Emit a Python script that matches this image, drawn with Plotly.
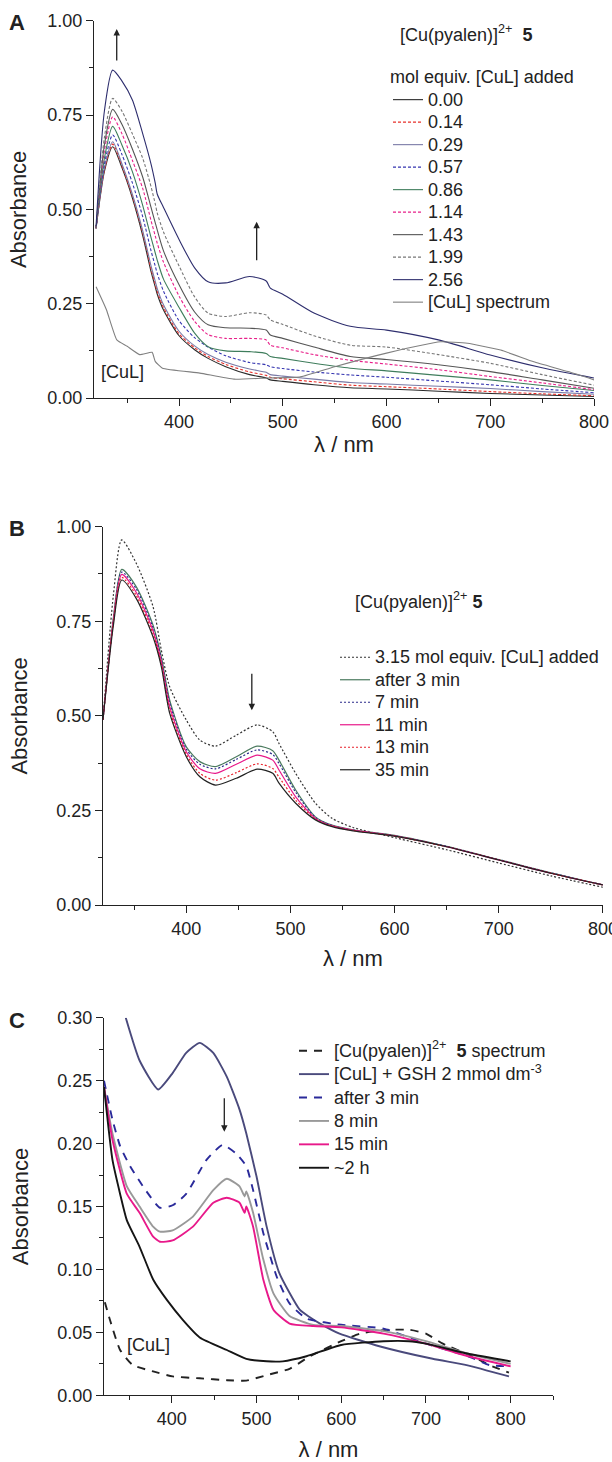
import plotly.graph_objects as go

# ---------------- Panel A data ----------------
wl_a = [320, 328, 336, 345, 355, 365, 373, 377, 379, 385, 400, 415, 428, 445, 468, 484, 488, 500, 530, 565, 600, 650, 700, 750, 800]
a_labels = ["0.00", "0.14", "0.29", "0.57", "0.86", "1.14", "1.43", "1.99", "2.56"]
a_000 = [0.45, 0.600, 0.666, 0.610, 0.530, 0.430, 0.335, 0.295, 0.275, 0.233, 0.165, 0.128, 0.105, 0.083, 0.062, 0.053, 0.048, 0.044, 0.035, 0.027, 0.024, 0.018, 0.012, 0.008, 0.004]
a_014 = [0.45, 0.605, 0.673, 0.615, 0.535, 0.437, 0.342, 0.302, 0.282, 0.240, 0.170, 0.133, 0.110, 0.089, 0.069, 0.060, 0.055, 0.051, 0.043, 0.034, 0.030, 0.024, 0.017, 0.011, 0.006]
a_029 = [0.45, 0.610, 0.679, 0.620, 0.540, 0.443, 0.350, 0.310, 0.290, 0.247, 0.177, 0.138, 0.115, 0.095, 0.077, 0.068, 0.062, 0.058, 0.050, 0.041, 0.037, 0.031, 0.025, 0.017, 0.010]
a_057 = [0.45, 0.620, 0.697, 0.645, 0.570, 0.480, 0.390, 0.350, 0.330, 0.283, 0.205, 0.160, 0.135, 0.112, 0.094, 0.088, 0.083, 0.078, 0.069, 0.061, 0.055, 0.045, 0.035, 0.024, 0.014]
a_086 = [0.45, 0.635, 0.720, 0.670, 0.600, 0.510, 0.425, 0.385, 0.365, 0.315, 0.240, 0.172, 0.136, 0.125, 0.123, 0.118, 0.110, 0.105, 0.092, 0.079, 0.072, 0.060, 0.048, 0.033, 0.020]
a_114 = [0.45, 0.655, 0.745, 0.700, 0.630, 0.555, 0.470, 0.430, 0.410, 0.360, 0.270, 0.203, 0.168, 0.158, 0.158, 0.154, 0.140, 0.133, 0.115, 0.100, 0.090, 0.075, 0.057, 0.040, 0.022]
a_143 = [0.45, 0.670, 0.765, 0.725, 0.660, 0.585, 0.505, 0.465, 0.445, 0.390, 0.300, 0.228, 0.194, 0.186, 0.185, 0.180, 0.167, 0.158, 0.135, 0.110, 0.102, 0.088, 0.070, 0.048, 0.026]
a_199 = [0.45, 0.690, 0.794, 0.760, 0.700, 0.635, 0.560, 0.515, 0.490, 0.440, 0.350, 0.268, 0.225, 0.216, 0.226, 0.220, 0.207, 0.195, 0.165, 0.140, 0.135, 0.115, 0.092, 0.062, 0.034]
a_256 = [0.455, 0.760, 0.869, 0.840, 0.790, 0.700, 0.620, 0.570, 0.540, 0.505, 0.420, 0.345, 0.308, 0.305, 0.322, 0.310, 0.291, 0.275, 0.225, 0.190, 0.180, 0.154, 0.114, 0.080, 0.053]
a_series = [a_000, a_014, a_029, a_057, a_086, a_114, a_143, a_199, a_256]
a_colors = ["#2a2a2a", "#e8302a", "#7a7aa6", "#3535b0", "#3f7d5c", "#e8208a", "#555555", "#777777", "#2e2e6e"]
a_dash = ["solid", "3px,2px", "solid", "3px,2px", "solid", "3px,2px", "solid", "3px,2px", "solid"]

wl_cul = [320, 330, 340, 350, 362, 374, 377, 384, 420, 453, 485, 517, 550, 600, 652, 678, 710, 742, 775, 800]
cul_a = [0.295, 0.234, 0.154, 0.137, 0.115, 0.121, 0.097, 0.079, 0.066, 0.050, 0.053, 0.056, 0.083, 0.119, 0.149, 0.145, 0.127, 0.096, 0.070, 0.048]

# ---------------- Panel B data ----------------
wl_b = [320, 330, 338, 352, 368, 376, 384, 400, 413, 428, 448, 468, 483, 489, 505, 524, 540, 560, 600, 650, 700, 750, 800]
b_labels = ["3.15 mol equiv. [CuL] added", "after 3 min", "7 min", "11 min", "13 min", "35 min"]
b_315 = [0.49, 0.820, 0.965, 0.903, 0.789, 0.674, 0.577, 0.489, 0.436, 0.420, 0.449, 0.476, 0.458, 0.427, 0.348, 0.269, 0.229, 0.205, 0.178, 0.146, 0.111, 0.077, 0.047]
b_3 = [0.49, 0.760, 0.887, 0.841, 0.740, 0.656, 0.542, 0.418, 0.379, 0.366, 0.392, 0.420, 0.408, 0.383, 0.304, 0.233, 0.211, 0.199, 0.184, 0.155, 0.120, 0.085, 0.053]
b_7 = [0.49, 0.755, 0.880, 0.835, 0.733, 0.650, 0.535, 0.412, 0.372, 0.360, 0.385, 0.410, 0.398, 0.374, 0.298, 0.231, 0.210, 0.198, 0.183, 0.155, 0.120, 0.085, 0.053]
b_11 = [0.49, 0.752, 0.874, 0.826, 0.725, 0.643, 0.525, 0.405, 0.360, 0.348, 0.372, 0.396, 0.383, 0.357, 0.286, 0.229, 0.209, 0.198, 0.183, 0.154, 0.119, 0.084, 0.053]
b_13 = [0.49, 0.750, 0.866, 0.818, 0.717, 0.637, 0.515, 0.398, 0.348, 0.330, 0.350, 0.373, 0.361, 0.338, 0.277, 0.227, 0.208, 0.197, 0.182, 0.154, 0.119, 0.084, 0.053]
b_35 = [0.49, 0.740, 0.859, 0.810, 0.709, 0.630, 0.507, 0.392, 0.339, 0.317, 0.335, 0.359, 0.348, 0.322, 0.269, 0.225, 0.207, 0.196, 0.182, 0.154, 0.119, 0.084, 0.053]
b_series = [b_315, b_3, b_7, b_11, b_13, b_35]
b_colors = ["#333333", "#4a7a5e", "#2a2a8a", "#e8198a", "#e8202a", "#222222"]
b_dash = ["2px,2px", "solid", "2px,2px", "solid", "2px,2px", "solid"]

# ---------------- Panel C data ----------------
c_labels = ["[Cu(pyalen)]<sup>2+</sup>  <b>5</b> spectrum", "[CuL] + GSH 2 mmol dm<sup>-3</sup>",
            "after 3 min", "8 min", "15 min", "~2 h"]
wl_c0 = [321, 327, 339, 354, 378, 401, 433, 465, 488, 512, 539, 563, 600, 622, 654, 681, 700, 720, 755, 775, 798]
c_5 = [0.074, 0.060, 0.036, 0.024, 0.019, 0.015, 0.0135, 0.012, 0.0117, 0.016, 0.021, 0.031, 0.043, 0.049, 0.052, 0.052, 0.049, 0.041, 0.031, 0.024, 0.018]
wl_c1 = [345.7, 362, 384, 401, 417, 433, 449, 465, 480, 488, 500, 512, 527, 551, 563, 575, 598, 645, 708, 748, 798]
c_gsh = [0.300, 0.266, 0.243, 0.256, 0.272, 0.280, 0.272, 0.253, 0.227, 0.208, 0.174, 0.134, 0.097, 0.068, 0.062, 0.057, 0.049, 0.039, 0.029, 0.024, 0.015]
wl_c2 = [320, 330, 339, 350, 366, 386, 401, 417, 441, 460, 476, 488, 496, 508, 524, 539, 559, 600, 650, 700, 750, 775, 800]
c_3 = [0.250, 0.219, 0.198, 0.183, 0.166, 0.149, 0.151, 0.160, 0.187, 0.199, 0.192, 0.182, 0.163, 0.129, 0.094, 0.073, 0.061, 0.056, 0.053, 0.041, 0.031, 0.024, 0.023]
wl_c3 = [320, 330, 347, 362, 378, 386, 401, 425, 449, 465, 480, 486, 488, 496, 508, 520, 539, 567, 600, 650, 700, 750, 800]
c_8 = [0.245, 0.208, 0.166, 0.150, 0.134, 0.130, 0.131, 0.142, 0.163, 0.172, 0.166, 0.158, 0.162, 0.145, 0.108, 0.081, 0.063, 0.056, 0.055, 0.051, 0.043, 0.033, 0.025]
c_15 = [0.245, 0.203, 0.160, 0.145, 0.126, 0.122, 0.123, 0.134, 0.153, 0.157, 0.153, 0.145, 0.150, 0.134, 0.092, 0.068, 0.057, 0.055, 0.054, 0.049, 0.041, 0.031, 0.023]
wl_c4 = [320, 330, 339, 347, 362, 378, 394, 413, 433, 465, 488, 512, 531, 559, 600, 650, 680, 700, 750, 800]
c_2h = [0.245, 0.187, 0.160, 0.139, 0.118, 0.092, 0.076, 0.060, 0.046, 0.036, 0.029, 0.027, 0.027, 0.031, 0.040, 0.043, 0.043, 0.041, 0.033, 0.027]
c_x = [wl_c0, wl_c1, wl_c2, wl_c3, wl_c3, wl_c4]
c_series = [c_5, c_gsh, c_3, c_8, c_15, c_2h]
c_colors = ["#222222", "#4a4a7c", "#2a2a9a", "#999999", "#e8198a", "#151515"]
c_dash = ["8px,7px", "solid", "8px,7px", "solid", "solid", "solid"]

FONT = "Liberation Sans, Arial, sans-serif"
W, H = 612, 1462


def big(t):
    return f"<span style='font-size:18px'>{t}</span>"


fig = go.Figure()

for lab, ys, col, d in zip(a_labels, a_series, a_colors, a_dash):
    fig.add_trace(go.Scatter(x=wl_a, y=ys, name=big(lab), mode="lines", xaxis="x", yaxis="y", legend="legend",
                             line=dict(color=col, width=1.1, dash=d, shape="spline", smoothing=0.7)))
fig.add_trace(go.Scatter(x=wl_cul, y=cul_a, name=big("[CuL] spectrum"), mode="lines", xaxis="x", yaxis="y",
                         legend="legend", line=dict(color="#808080", width=1.1, shape="spline", smoothing=0.4)))

for lab, ys, col, d in zip(b_labels, b_series, b_colors, b_dash):
    fig.add_trace(go.Scatter(x=wl_b, y=ys, name=big(lab), mode="lines", xaxis="x2", yaxis="y2", legend="legend2",
                             line=dict(color=col, width=1.2, dash=d, shape="spline", smoothing=0.7)))

for lab, xs, ys, col, d in zip(c_labels, c_x, c_series, c_colors, c_dash):
    fig.add_trace(go.Scatter(x=xs, y=ys, name=big(lab), mode="lines", xaxis="x3", yaxis="y3", legend="legend3",
                             line=dict(color=col, width=1.9, dash=d, shape="spline", smoothing=0.5)))


def px_x(p):
    return p / W


def px_y(p):
    return 1 - p / H


axis_common = dict(showline=True, linecolor="#222222", linewidth=1.3, ticks="outside", ticklen=7,
                   tickwidth=1.3, tickcolor="#222222", showgrid=False, zeroline=False,
                   ticklabeloverflow="allow",
                   tickfont=dict(size=18, color="#222222", family=FONT))
minor_x = dict(dtick=50, tick0=0, ticks="outside", ticklen=4, tickcolor="#222222")

fig.update_layout(
    width=W, height=H, margin=dict(l=0, r=0, t=0, b=0, autoexpand=False),
    paper_bgcolor="white", plot_bgcolor="white",
    font=dict(family=FONT, size=18, color="#222222"),
    xaxis=dict(domain=[px_x(94), px_x(594)], range=[318, 800], dtick=100, tick0=0, anchor="y", minor=minor_x,
               title=dict(text="λ / nm", font=dict(size=22), standoff=0), **axis_common),
    yaxis=dict(domain=[px_y(398), px_y(20.7)], range=[0, 1.0], dtick=0.25, tickformat=".2f", anchor="x",
               minor=dict(dtick=0.125, ticks="outside", ticklen=4, tickcolor="#222222"),
               title=dict(text="Absorbance", font=dict(size=22), standoff=14), **axis_common),
    xaxis2=dict(domain=[px_x(103), px_x(602.9)], range=[320, 800], dtick=100, tick0=0, anchor="y2", minor=minor_x,
                title=dict(text="λ / nm", font=dict(size=22), standoff=12), **axis_common),
    yaxis2=dict(domain=[px_y(905), px_y(526.7)], range=[0, 1.0], dtick=0.25, tickformat=".2f", anchor="x2",
                minor=dict(dtick=0.125, ticks="outside", ticklen=4, tickcolor="#222222"),
                title=dict(text="Absorbance", font=dict(size=22), standoff=22), **axis_common),
    xaxis3=dict(domain=[px_x(104), px_x(553)], range=[320, 850], dtick=100, tick0=0, anchor="y3", minor=minor_x,
                title=dict(text="λ / nm", font=dict(size=22), standoff=14), **axis_common),
    yaxis3=dict(domain=[px_y(1395.3), px_y(1017.7)], range=[0, 0.30], dtick=0.05, tickformat=".2f", anchor="x3",
                minor=dict(dtick=0.025, ticks="outside", ticklen=4, tickcolor="#222222"),
                title=dict(text="Absorbance", font=dict(size=22), standoff=22), **axis_common),
    legend=dict(x=px_x(388), y=px_y(60), xanchor="left", yanchor="top", bgcolor="rgba(0,0,0,0)",
                font=dict(size=15), title=dict(text="mol equiv. [CuL] added", font=dict(size=18)),
                tracegroupgap=0),
    legend2=dict(x=px_x(335), y=px_y(641), xanchor="left", yanchor="top", bgcolor="rgba(0,0,0,0)",
                 font=dict(size=15), tracegroupgap=0),
    legend3=dict(x=px_x(294), y=px_y(1034), xanchor="left", yanchor="top", bgcolor="rgba(0,0,0,0)",
                 font=dict(size=15.7), tracegroupgap=0),
    showlegend=True,
)

ann = []
txt = dict(xref="paper", yref="paper", showarrow=False, xanchor="center", yanchor="middle")
for lab, yp in [("A", 22), ("B", 528), ("C", 1020)]:
    ann.append(dict(text=f"<b>{lab}</b>", x=px_x(17), y=px_y(yp), font=dict(size=22, color="#222222"), **txt))
ann.append(dict(text="[Cu(pyalen)]<sup>2+</sup>  <b>5</b>", x=px_x(466), y=px_y(33), font=dict(size=18), **txt))
ann.append(dict(text="[Cu(pyalen)]<sup>2+</sup> <b>5</b>", x=px_x(418), y=px_y(600), font=dict(size=18), **txt))
ann.append(dict(text="[CuL]", x=px_x(122), y=px_y(372), font=dict(size=18), **txt))
ann.append(dict(text="[CuL]", x=px_x(148), y=px_y(1345), font=dict(size=18), **txt))
arrow_style = dict(showarrow=True, text="", arrowhead=2, arrowsize=1, arrowwidth=1.3, arrowcolor="#222222",
                   axref="pixel", ayref="pixel", ax=0)
ann.append(dict(x=339.9, y=0.978, xref="x", yref="y", ay=33, **arrow_style))
ann.append(dict(x=474.8, y=0.467, xref="x", yref="y", ay=40, **arrow_style))
ann.append(dict(x=462.9, y=0.515, xref="x2", yref="y2", ay=-38, **arrow_style))
ann.append(dict(x=462.0, y=0.2094, xref="x3", yref="y3", ay=-35, **arrow_style))
fig.update_layout(annotations=ann)

fig.write_html("out.html", config={"displayModeBar": False},
               post_script="document.body.style.margin='0px';document.body.style.overflow='hidden';")
